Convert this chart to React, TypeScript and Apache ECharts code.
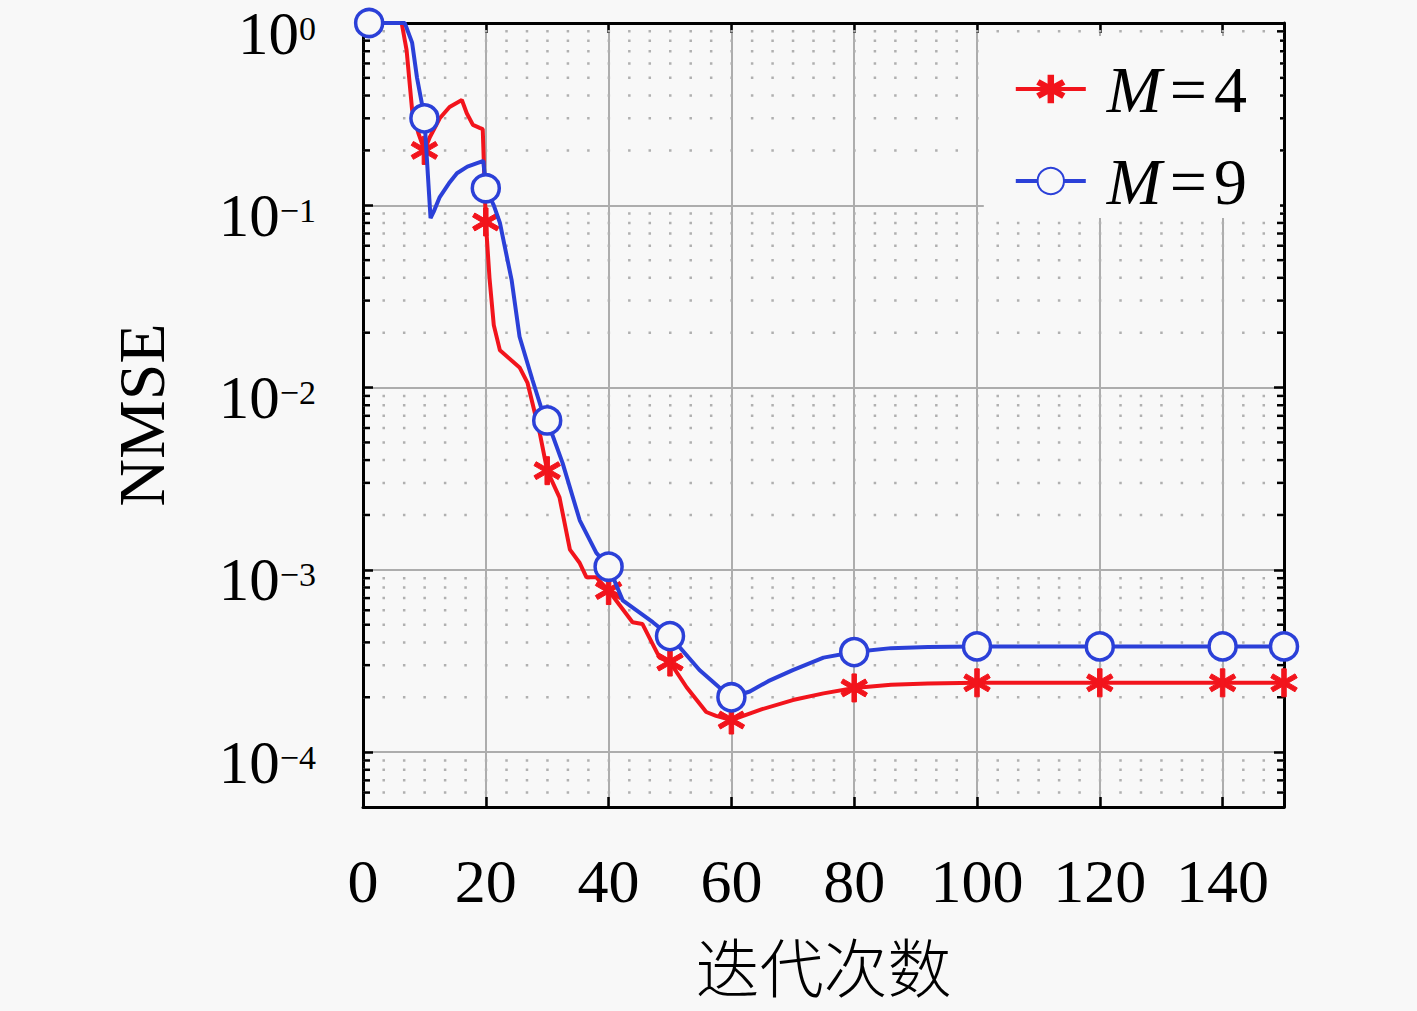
import React, { useEffect, useRef } from "react";
import * as echarts from "echarts";

// ---- data ----
const iterM4 = [1, 6.3, 7.1, 8, 9, 10, 10.9, 12.5, 14.1, 16.1, 16.9, 17.9, 19, 19.5, 20, 20.6, 21.3, 22.3, 25.5, 26.8, 28.8, 30, 32, 33.7, 35.3, 36.4, 38, 40, 43.9, 45.5, 48.3, 50, 52.7, 55.9, 57.5, 60, 65, 70, 75, 80, 86, 92, 100, 120, 140, 150];
const nmseM4 = [1.0, 1.0, 0.71, 0.333, 0.25, 0.2, 0.237, 0.3, 0.346, 0.378, 0.32, 0.276, 0.266, 0.262, 0.081, 0.04, 0.022, 0.016, 0.0129, 0.0106, 0.0056, 0.0035, 0.0025, 0.00129, 0.00109, 0.00091, 0.00091, 0.00077, 0.000516, 0.000505, 0.00033, 0.000312, 0.000227, 0.000166, 0.000158, 0.00015, 0.000172, 0.000193, 0.00021, 0.000225, 0.000234, 0.000238, 0.00024, 0.00024, 0.00024, 0.00024];

const iterM9 = [1, 6.8, 8, 8.8, 9.6, 10, 11, 11.5, 12.5, 14, 15.3, 17, 18.7, 19.6, 20, 21.3, 22.3, 24.2, 25.5, 27.6, 29, 30, 32.5, 35.3, 38, 40, 42.3, 47.2, 50, 54.8, 58, 60, 63, 66, 70, 75, 80, 86, 92, 100, 120, 140, 150];
const nmseM9 = [1.0, 1.0, 0.78, 0.5, 0.36, 0.3, 0.085, 0.092, 0.111, 0.132, 0.15, 0.163, 0.171, 0.175, 0.124, 0.1, 0.08, 0.039, 0.019, 0.011, 0.0078, 0.0066, 0.00386, 0.00187, 0.00124, 0.00104, 0.00068, 0.000516, 0.000433, 0.000282, 0.000227, 0.0002, 0.000215, 0.000245, 0.000282, 0.00033, 0.000354, 0.000372, 0.000377, 0.00038, 0.00038, 0.00038, 0.00038];

const markerIters = [1, 10, 20, 30, 40, 50, 60, 80, 100, 120, 140, 150];
const xTickLabels = ["0", "20", "40", "60", "80", "100", "120", "140"];
const seriesNames = ["M=4", "M=9"];

const X_MIN = 0;
const X_MAX = 150;
const X_STEP = 20;
const X_MINOR_STEP = X_STEP / 6;
const Y_MIN = 5e-5;
const Y_MAX = 1;

// minor grid positions (rule-based, not data)
const minorY: number[] = [];
for (let e = -5; e <= -1; e++) {
  for (let m = 2; m <= 9; m++) {
    const v = m * Math.pow(10, e);
    if (v > Y_MIN * 1.0001 && v < Y_MAX) minorY.push(v);
  }
}

const RED = "#f2141c";
const BLUE = "#2b40d8";
const BG = "#f8f8f8";
const SERIF = "'Liberation Serif', 'DejaVu Serif', serif";
// six-spoke asterisk made of three filled bars
const STAR =
  "path://M-1.6,-10L1.6,-10L1.6,10L-1.6,10Z" +
  "M7.86,-6.39L9.46,-3.61L-7.86,6.39L-9.46,3.61Z" +
  "M-9.46,-3.61L-7.86,-6.39L9.46,3.61L7.86,6.39Z";

function buildData(xs: number[], ys: number[]) {
  return xs.map((x, i) => {
    const item: any = { value: [x, ys[i]] };
    if (!markerIters.includes(x)) item.symbol = "none";
    return item;
  });
}

export default function App() {
  const ref = useRef<HTMLDivElement>(null);
  useEffect(() => {
    if (!ref.current) return;
    const chart = echarts.init(ref.current, null, { renderer: "svg" });
    const axisLineStyle = { color: "#000", width: 3 };
    const tickStyle = { color: "#000", width: 2.5 };
    const option: any = {
      animation: false,
      backgroundColor: BG,
      grid: { left: 363, top: 23, right: 133, bottom: 204 },
      legend: {
        data: seriesNames,
        orient: "vertical",
        right: 137,
        top: 36,
        padding: [20, 33, 4, 30],
        itemGap: 26,
        itemWidth: 70,
        itemHeight: 33,
        backgroundColor: BG,
        selectedMode: false,
        lineStyle: { width: 4 },
        formatter: (name: string) => `{i|M}{e|=}{n|${name.slice(2)}}`,
        textStyle: {
          color: "#000",
          fontFamily: SERIF,
          fontSize: 66,
          lineHeight: 64,
          padding: [0, 0, 0, 16],
          rich: {
            i: { fontStyle: "italic", fontFamily: SERIF, fontSize: 66, color: "#000" },
            e: { fontFamily: SERIF, fontSize: 66, color: "#000", padding: [0, 7, 0, 8] },
            n: { fontFamily: SERIF, fontSize: 66, color: "#000" },
          },
        },
      },
      xAxis: [
        {
          type: "value",
          min: X_MIN,
          max: X_MAX,
          interval: X_STEP,
          position: "bottom",
          axisLine: { show: true, onZero: false, lineStyle: axisLineStyle },
          axisTick: { show: true, inside: true, length: 10, lineStyle: tickStyle },
          axisLabel: {
            color: "#000",
            fontFamily: SERIF,
            fontSize: 62,
            margin: 43,
            formatter: (v: number) => {
              const s = String(Math.round(v));
              return xTickLabels.includes(s) && Math.abs(v - Math.round(v)) < 1e-9 ? s : "";
            },
          },
          splitLine: { show: true, lineStyle: { color: "#adadad", width: 2 } },
          name: "迭代次数",
          nameLocation: "middle",
          nameGap: 125,
          nameTextStyle: { color: "#000", fontFamily: "'Noto Sans CJK SC', sans-serif", fontSize: 64, lineHeight: 64, fontWeight: 300 },
        },
        {
          type: "value",
          min: X_MIN,
          max: X_MAX,
          interval: X_STEP,
          position: "top",
          axisLine: { show: true, onZero: false, lineStyle: axisLineStyle },
          axisTick: { show: true, inside: true, length: 10, lineStyle: tickStyle },
          axisLabel: { show: false },
          splitLine: { show: false },
        },
      ],
      yAxis: [
        {
          type: "log",
          logBase: 10,
          min: Y_MIN,
          max: Y_MAX,
          position: "left",
          axisLine: { show: true, onZero: false, lineStyle: axisLineStyle },
          axisTick: { show: true, inside: true, length: 10, lineStyle: tickStyle },
          axisLabel: {
            color: "#000",
            margin: 47,
            padding: [20, 0, 0, 0],
            formatter: (v: number) => {
              const l = Math.log10(v);
              const e = Math.round(l);
              if (Math.abs(l - e) > 1e-6) return "";
              const sup = e === 0 ? "0" : "\u2212" + String(-e);
              return `{b|10}{s|${sup}}`;
            },
            rich: {
              b: { fontFamily: SERIF, fontSize: 61, lineHeight: 44, color: "#000" },
              s: { fontFamily: SERIF, fontSize: 34, lineHeight: 20, verticalAlign: "top", color: "#000" },
            },
          },
          splitLine: { show: true, lineStyle: { color: "#adadad", width: 2 } },
          name: "NMSE",
          nameLocation: "middle",
          nameGap: 192,
          nameTextStyle: { color: "#000", fontFamily: SERIF, fontSize: 66, lineHeight: 60 },
        },
        {
          type: "log",
          logBase: 10,
          min: Y_MIN,
          max: Y_MAX,
          position: "right",
          axisLine: { show: true, onZero: false, lineStyle: axisLineStyle },
          axisTick: { show: true, inside: true, length: 10, lineStyle: tickStyle },
          axisLabel: { show: false },
          splitLine: { show: false },
        },
      ],
      series: [
        {
          type: "custom",
          name: "minorY",
          silent: true,
          z: 1,
          xAxisIndex: 0,
          yAxisIndex: 0,
          encode: { x: 0, y: 1 },
          data: minorY.map((v) => [X_MIN, v]),
          renderItem: (params: any, api: any) => {
            const p = api.coord([X_MIN, api.value(1)]);
            const period = api.size([X_MINOR_STEP, 1])[0];
            const cs = params.coordSys;
            return {
              type: "group",
              children: [
                {
                  type: "line",
                  shape: { x1: cs.x, y1: p[1], x2: cs.x + cs.width, y2: p[1] },
                  style: { stroke: "#b0b0b0", lineWidth: 2.5, lineDash: [2.5, period - 2.5], lineDashOffset: 1.25 },
                },
                { type: "line", shape: { x1: cs.x, y1: p[1], x2: cs.x + 7, y2: p[1] }, style: { stroke: "#000", lineWidth: 2.5 } },
                { type: "line", shape: { x1: cs.x + cs.width - 7, y1: p[1], x2: cs.x + cs.width, y2: p[1] }, style: { stroke: "#000", lineWidth: 2.5 } },
              ],
            };
          },
        },
        {
          type: "line",
          name: seriesNames[0],
          z: 3,
          data: buildData(iterM4, nmseM4),
          symbol: STAR,
          symbolSize: 28,
          symbolKeepAspect: true,
          showSymbol: true,
          lineStyle: { color: RED, width: 4 },
          itemStyle: { color: RED, borderColor: RED, borderWidth: 1 },
          emphasis: { disabled: true },
        },
        {
          type: "line",
          name: seriesNames[1],
          z: 4,
          data: buildData(iterM9, nmseM9),
          symbol: "circle",
          symbolSize: 27,
          showSymbol: true,
          lineStyle: { color: BLUE, width: 4 },
          itemStyle: { color: BG, borderColor: BLUE, borderWidth: 3.5 },
          emphasis: { disabled: true },
        },
      ],
    };
    chart.setOption(option);
    return () => chart.dispose();
  }, []);
  return (
    <div
      ref={ref}
      style={{ position: "fixed", left: 0, top: 0, width: 1417, height: 1011, background: BG }}
    />
  );
}
